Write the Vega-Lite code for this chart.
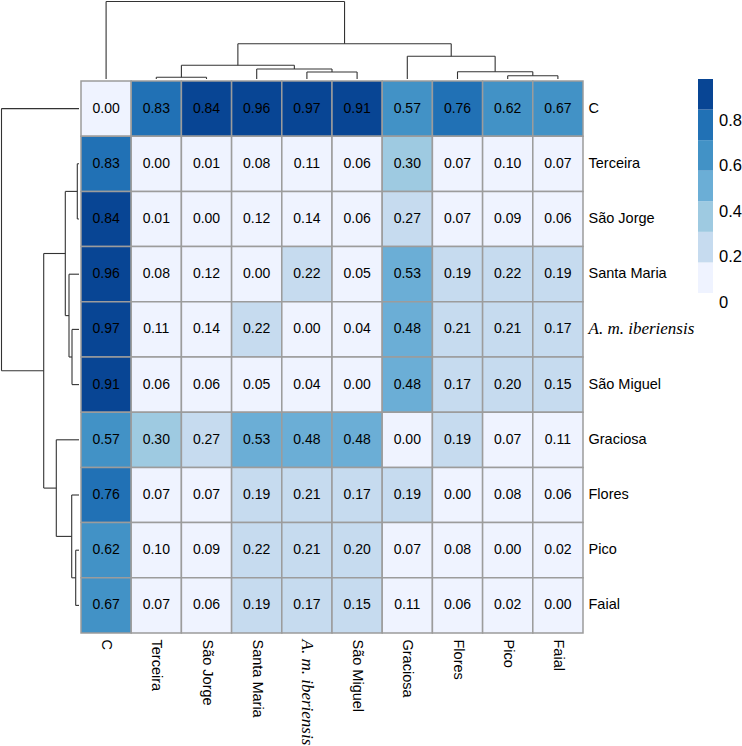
{
  "$schema": "https://vega.github.io/schema/vega-lite/v6.json",
  "padding": 0,
  "config": {"view": {"stroke": null}, "font": "Liberation Sans"},
  "datasets": {
    "tree": [
      {"p1": 1, "p2": 2, "h1": 1.7, "h2": 1.7},
      {"p1": 1, "p2": 1, "h1": 0, "h2": 1.7},
      {"p1": 2, "p2": 2, "h1": 0, "h2": 1.7},
      {"p1": 4, "p2": 5, "h1": 7, "h2": 7},
      {"p1": 4, "p2": 4, "h1": 0, "h2": 7},
      {"p1": 5, "p2": 5, "h1": 0, "h2": 7},
      {"p1": 3, "p2": 4.5, "h1": 10, "h2": 10},
      {"p1": 3, "p2": 3, "h1": 0, "h2": 10},
      {"p1": 4.5, "p2": 4.5, "h1": 7, "h2": 10},
      {"p1": 1.5, "p2": 3.75, "h1": 13.7, "h2": 13.7},
      {"p1": 1.5, "p2": 1.5, "h1": 1.7, "h2": 13.7},
      {"p1": 3.75, "p2": 3.75, "h1": 10, "h2": 13.7},
      {"p1": 8, "p2": 9, "h1": 3.3, "h2": 3.3},
      {"p1": 8, "p2": 8, "h1": 0, "h2": 3.3},
      {"p1": 9, "p2": 9, "h1": 0, "h2": 3.3},
      {"p1": 7, "p2": 8.5, "h1": 7.3, "h2": 7.3},
      {"p1": 7, "p2": 7, "h1": 0, "h2": 7.3},
      {"p1": 8.5, "p2": 8.5, "h1": 3.3, "h2": 7.3},
      {"p1": 6, "p2": 7.75, "h1": 22.7, "h2": 22.7},
      {"p1": 6, "p2": 6, "h1": 0, "h2": 22.7},
      {"p1": 7.75, "p2": 7.75, "h1": 7.3, "h2": 22.7},
      {"p1": 2.625, "p2": 6.875, "h1": 35.3, "h2": 35.3},
      {"p1": 2.625, "p2": 2.625, "h1": 13.7, "h2": 35.3},
      {"p1": 6.875, "p2": 6.875, "h1": 22.7, "h2": 35.3},
      {"p1": 0, "p2": 4.75, "h1": 77.5, "h2": 77.5},
      {"p1": 0, "p2": 0, "h1": 0, "h2": 77.5},
      {"p1": 4.75, "p2": 4.75, "h1": 35.3, "h2": 77.5}
    ],
    "cells": [
      {"row": "C", "col": "C", "value": 0.00}, {"row": "C", "col": "Terceira", "value": 0.83}, {"row": "C", "col": "São Jorge", "value": 0.84}, {"row": "C", "col": "Santa Maria", "value": 0.96}, {"row": "C", "col": "A. m. iberiensis", "value": 0.97}, {"row": "C", "col": "São Miguel", "value": 0.91}, {"row": "C", "col": "Graciosa", "value": 0.57}, {"row": "C", "col": "Flores", "value": 0.76}, {"row": "C", "col": "Pico", "value": 0.62}, {"row": "C", "col": "Faial", "value": 0.67},
      {"row": "Terceira", "col": "C", "value": 0.83}, {"row": "Terceira", "col": "Terceira", "value": 0.00}, {"row": "Terceira", "col": "São Jorge", "value": 0.01}, {"row": "Terceira", "col": "Santa Maria", "value": 0.08}, {"row": "Terceira", "col": "A. m. iberiensis", "value": 0.11}, {"row": "Terceira", "col": "São Miguel", "value": 0.06}, {"row": "Terceira", "col": "Graciosa", "value": 0.30}, {"row": "Terceira", "col": "Flores", "value": 0.07}, {"row": "Terceira", "col": "Pico", "value": 0.10}, {"row": "Terceira", "col": "Faial", "value": 0.07},
      {"row": "São Jorge", "col": "C", "value": 0.84}, {"row": "São Jorge", "col": "Terceira", "value": 0.01}, {"row": "São Jorge", "col": "São Jorge", "value": 0.00}, {"row": "São Jorge", "col": "Santa Maria", "value": 0.12}, {"row": "São Jorge", "col": "A. m. iberiensis", "value": 0.138}, {"row": "São Jorge", "col": "São Miguel", "value": 0.06}, {"row": "São Jorge", "col": "Graciosa", "value": 0.27}, {"row": "São Jorge", "col": "Flores", "value": 0.07}, {"row": "São Jorge", "col": "Pico", "value": 0.09}, {"row": "São Jorge", "col": "Faial", "value": 0.06},
      {"row": "Santa Maria", "col": "C", "value": 0.96}, {"row": "Santa Maria", "col": "Terceira", "value": 0.08}, {"row": "Santa Maria", "col": "São Jorge", "value": 0.12}, {"row": "Santa Maria", "col": "Santa Maria", "value": 0.00}, {"row": "Santa Maria", "col": "A. m. iberiensis", "value": 0.22}, {"row": "Santa Maria", "col": "São Miguel", "value": 0.05}, {"row": "Santa Maria", "col": "Graciosa", "value": 0.53}, {"row": "Santa Maria", "col": "Flores", "value": 0.19}, {"row": "Santa Maria", "col": "Pico", "value": 0.22}, {"row": "Santa Maria", "col": "Faial", "value": 0.19},
      {"row": "A. m. iberiensis", "col": "C", "value": 0.97}, {"row": "A. m. iberiensis", "col": "Terceira", "value": 0.11}, {"row": "A. m. iberiensis", "col": "São Jorge", "value": 0.138}, {"row": "A. m. iberiensis", "col": "Santa Maria", "value": 0.22}, {"row": "A. m. iberiensis", "col": "A. m. iberiensis", "value": 0.00}, {"row": "A. m. iberiensis", "col": "São Miguel", "value": 0.04}, {"row": "A. m. iberiensis", "col": "Graciosa", "value": 0.48}, {"row": "A. m. iberiensis", "col": "Flores", "value": 0.21}, {"row": "A. m. iberiensis", "col": "Pico", "value": 0.21}, {"row": "A. m. iberiensis", "col": "Faial", "value": 0.17},
      {"row": "São Miguel", "col": "C", "value": 0.91}, {"row": "São Miguel", "col": "Terceira", "value": 0.06}, {"row": "São Miguel", "col": "São Jorge", "value": 0.06}, {"row": "São Miguel", "col": "Santa Maria", "value": 0.05}, {"row": "São Miguel", "col": "A. m. iberiensis", "value": 0.04}, {"row": "São Miguel", "col": "São Miguel", "value": 0.00}, {"row": "São Miguel", "col": "Graciosa", "value": 0.48}, {"row": "São Miguel", "col": "Flores", "value": 0.17}, {"row": "São Miguel", "col": "Pico", "value": 0.20}, {"row": "São Miguel", "col": "Faial", "value": 0.15},
      {"row": "Graciosa", "col": "C", "value": 0.57}, {"row": "Graciosa", "col": "Terceira", "value": 0.30}, {"row": "Graciosa", "col": "São Jorge", "value": 0.27}, {"row": "Graciosa", "col": "Santa Maria", "value": 0.53}, {"row": "Graciosa", "col": "A. m. iberiensis", "value": 0.48}, {"row": "Graciosa", "col": "São Miguel", "value": 0.48}, {"row": "Graciosa", "col": "Graciosa", "value": 0.00}, {"row": "Graciosa", "col": "Flores", "value": 0.19}, {"row": "Graciosa", "col": "Pico", "value": 0.07}, {"row": "Graciosa", "col": "Faial", "value": 0.11},
      {"row": "Flores", "col": "C", "value": 0.76}, {"row": "Flores", "col": "Terceira", "value": 0.07}, {"row": "Flores", "col": "São Jorge", "value": 0.07}, {"row": "Flores", "col": "Santa Maria", "value": 0.19}, {"row": "Flores", "col": "A. m. iberiensis", "value": 0.21}, {"row": "Flores", "col": "São Miguel", "value": 0.17}, {"row": "Flores", "col": "Graciosa", "value": 0.19}, {"row": "Flores", "col": "Flores", "value": 0.00}, {"row": "Flores", "col": "Pico", "value": 0.08}, {"row": "Flores", "col": "Faial", "value": 0.06},
      {"row": "Pico", "col": "C", "value": 0.62}, {"row": "Pico", "col": "Terceira", "value": 0.10}, {"row": "Pico", "col": "São Jorge", "value": 0.09}, {"row": "Pico", "col": "Santa Maria", "value": 0.22}, {"row": "Pico", "col": "A. m. iberiensis", "value": 0.21}, {"row": "Pico", "col": "São Miguel", "value": 0.20}, {"row": "Pico", "col": "Graciosa", "value": 0.07}, {"row": "Pico", "col": "Flores", "value": 0.08}, {"row": "Pico", "col": "Pico", "value": 0.00}, {"row": "Pico", "col": "Faial", "value": 0.02},
      {"row": "Faial", "col": "C", "value": 0.67}, {"row": "Faial", "col": "Terceira", "value": 0.07}, {"row": "Faial", "col": "São Jorge", "value": 0.06}, {"row": "Faial", "col": "Santa Maria", "value": 0.19}, {"row": "Faial", "col": "A. m. iberiensis", "value": 0.17}, {"row": "Faial", "col": "São Miguel", "value": 0.15}, {"row": "Faial", "col": "Graciosa", "value": 0.11}, {"row": "Faial", "col": "Flores", "value": 0.06}, {"row": "Faial", "col": "Pico", "value": 0.02}, {"row": "Faial", "col": "Faial", "value": 0.00}
    ]
  },
  "columns": 2,
  "spacing": 0,
  "concat": [
    {
      "width": 78, "height": 78,
      "data": {"values": []},
      "mark": "point",
      "encoding": {}
    },
    {
      "width": 502, "height": 78,
      "data": {"name": "tree"},
      "mark": {"type": "rule", "color": "#333333", "strokeWidth": 1.1},
      "encoding": {
        "x": {"field": "p1", "type": "quantitative", "scale": {"domain": [-0.5, 9.5], "nice": false, "zero": false}, "axis": null},
        "x2": {"field": "p2"},
        "y": {"field": "h1", "type": "quantitative", "scale": {"domain": [0, 78], "nice": false}, "axis": null},
        "y2": {"field": "h2"}
      }
    },
    {
      "width": 78, "height": 552,
      "data": {"name": "tree"},
      "mark": {"type": "rule", "color": "#333333", "strokeWidth": 1.1},
      "encoding": {
        "y": {"field": "p1", "type": "quantitative", "scale": {"domain": [-0.5, 9.5], "nice": false, "zero": false, "reverse": true}, "axis": null},
        "y2": {"field": "p2"},
        "x": {"field": "h1", "type": "quantitative", "scale": {"domain": [0, 78], "nice": false, "reverse": true}, "axis": null},
        "x2": {"field": "h2"}
      }
    },
    {
      "width": 502, "height": 552,
      "data": {"name": "cells"},
      "encoding": {
        "x": {
          "field": "col", "type": "nominal",
          "sort": ["C", "Terceira", "São Jorge", "Santa Maria", "A. m. iberiensis", "São Miguel", "Graciosa", "Flores", "Pico", "Faial"],
          "scale": {"paddingInner": 0, "paddingOuter": 0},
          "axis": {
            "orient": "bottom", "title": null, "labelAngle": 90, "labelAlign": "left", "labelBaseline": "middle",
            "ticks": false, "domain": false, "labelPadding": 6, "labelColor": "black", "labelLimit": 0,
            "labelFontSize": {"condition": {"test": "datum.value === 'A. m. iberiensis'", "value": 17}, "value": 14.5},
            "labelFont": {"condition": {"test": "datum.value === 'A. m. iberiensis'", "value": "Liberation Serif"}, "value": "Liberation Sans"},
            "labelFontStyle": {"condition": {"test": "datum.value === 'A. m. iberiensis'", "value": "italic"}, "value": "normal"}
          }
        },
        "y": {
          "field": "row", "type": "nominal",
          "sort": ["C", "Terceira", "São Jorge", "Santa Maria", "A. m. iberiensis", "São Miguel", "Graciosa", "Flores", "Pico", "Faial"],
          "scale": {"paddingInner": 0, "paddingOuter": 0},
          "axis": {
            "orient": "right", "title": null, "ticks": false, "domain": false, "labelPadding": 5, "labelColor": "black", "labelLimit": 0,
            "labelFontSize": {"condition": {"test": "datum.value === 'A. m. iberiensis'", "value": 17}, "value": 14.5},
            "labelFont": {"condition": {"test": "datum.value === 'A. m. iberiensis'", "value": "Liberation Serif"}, "value": "Liberation Sans"},
            "labelFontStyle": {"condition": {"test": "datum.value === 'A. m. iberiensis'", "value": "italic"}, "value": "normal"}
          }
        }
      },
      "layer": [
        {
          "mark": {"type": "rect", "stroke": "#9c9c9c", "strokeWidth": 1.5},
          "encoding": {
            "color": {
              "field": "value", "type": "quantitative",
              "scale": {"type": "quantize", "domain": [0, 0.97], "nice": false, "zero": false,
                        "range": ["#eff3ff", "#c6dbef", "#9ecae1", "#6baed6", "#4292c6", "#2171b5", "#084594"]},
              "legend": {
                "type": "gradient", "orient": "none", "legendX": 697, "legendY": 78, "title": null,
                "gradientLength": 214, "gradientThickness": 15, "gradientStrokeWidth": 0,
                "values": [0, 0.13858, 0.27715, 0.41572, 0.5543, 0.69286, 0.83143],
                "labelOpacity": 0, "labelFontSize": 1
              }
            }
          }
        },
        {
          "mark": {"type": "text", "fontSize": 14, "color": "black"},
          "encoding": {
            "text": {"field": "value", "type": "quantitative", "format": ".2f"},
            "stroke": {
              "field": "value", "type": "quantitative",
              "scale": {"type": "linear", "domain": [-0.0005, 0.97001], "nice": false, "zero": false,
                        "range": ["rgba(255,255,255,0)", "rgba(255,255,255,0)"]},
              "legend": {
                "type": "gradient", "orient": "none", "legendX": 697, "legendY": 81, "title": null,
                "gradientLength": 221, "gradientThickness": 15, "gradientStrokeWidth": 0,
                "values": [0, 0.2, 0.4, 0.6, 0.8], "format": "~g",
                "labelFontSize": 16.5, "labelColor": "black", "labelOffset": 6, "labelBaseline": "middle", "labelOverlap": false
              }
            }
          }
        }
      ]
    }
  ]
}
